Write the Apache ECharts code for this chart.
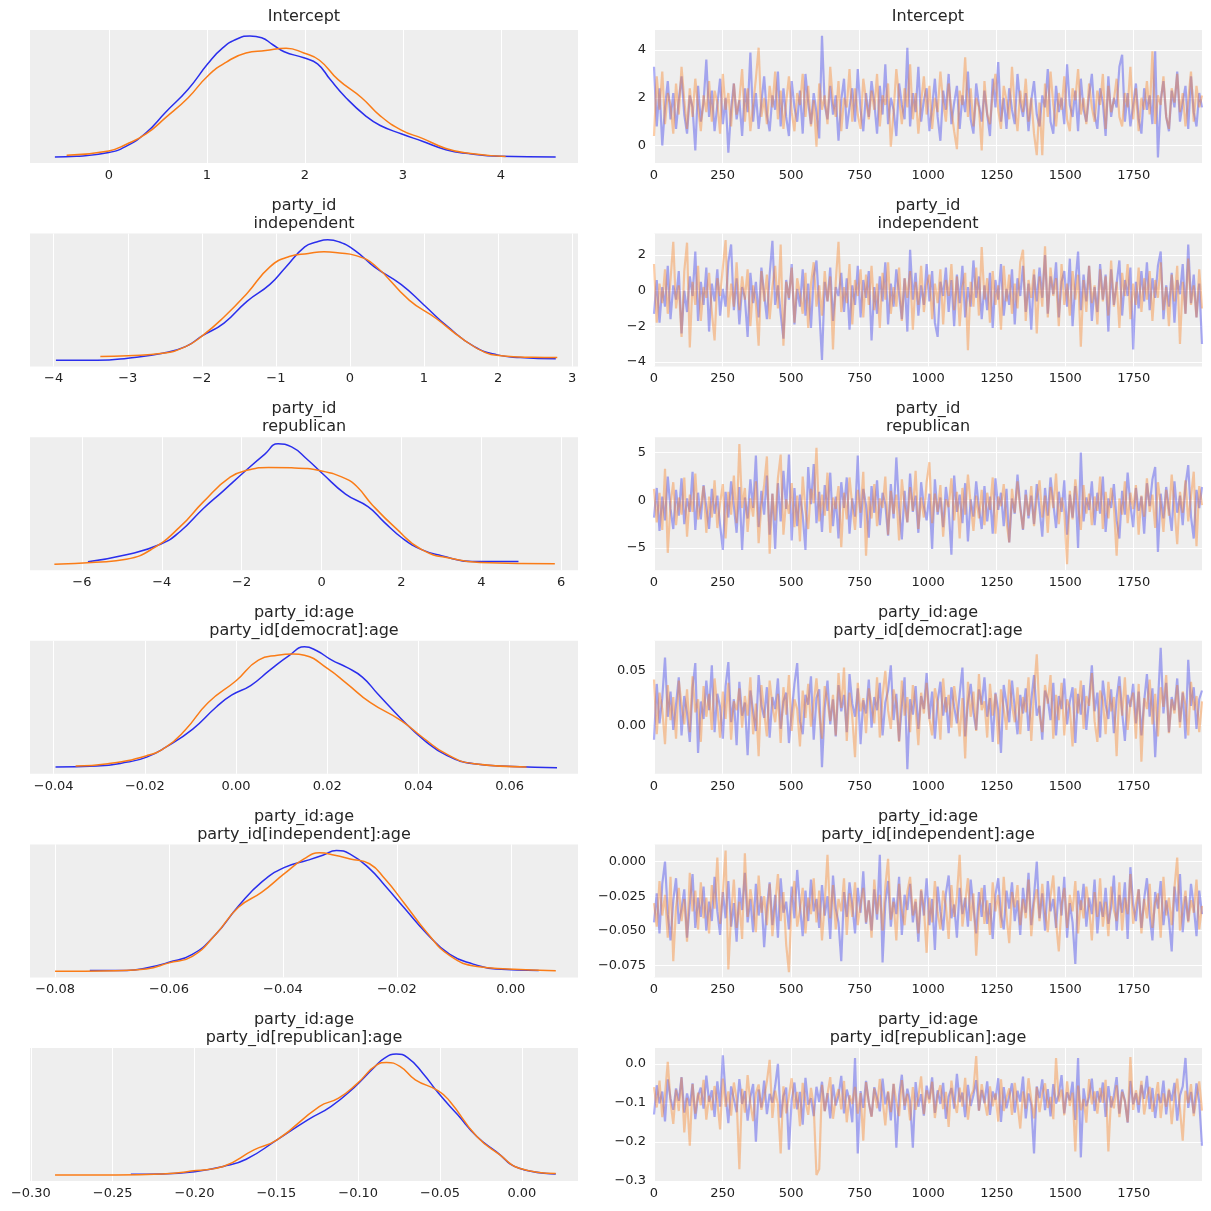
<!DOCTYPE html>
<html><head><meta charset="utf-8">
<script src="https://cdn.jsdelivr.net/npm/echarts@6/dist/echarts.min.js"></script>
<style>html,body{margin:0;padding:0;background:#fff}#c{width:1211px;height:1211px}</style>
</head><body><div id="c"></div>
<script>
// ---------- titles ----------
const titles = [['Intercept'],['party_id','independent'],['party_id','republican'],
  ['party_id:age','party_id[democrat]:age'],['party_id:age','party_id[independent]:age'],['party_id:age','party_id[republican]:age']];

// ---------- tick labels ----------
const kdeXTicks = [[0,1,2,3,4],[-4,-3,-2,-1,0,1,2,3],[-6,-4,-2,0,2,4,6],[-0.04,-0.02,0,0.02,0.04,0.06],[-0.08,-0.06,-0.04,-0.02,0],[-0.3,-0.25,-0.2,-0.15,-0.1,-0.05,0]];
const kdeXDecimals = [0,0,0,2,2,2];
const traceYTicks = [[0,2,4],[-4,-2,0,2],[-5,0,5],[0,0.05],[-0.075,-0.05,-0.025,0],[-0.3,-0.2,-0.1,0]];
const traceYDecimals = [0,0,0,2,3,1];
const drawTicks = [0,250,500,750,1000,1250,1500,1750];

// ---------- KDE curves (x, relative density) ----------
const kde1Blue = [[-0.55,0],[-0.33,0.5],[0,3.6],[0.18,9],[0.38,20],[0.58,37],[0.81,56],[1.01,77],[1.16,90],[1.32,98],[1.44,100],[1.56,98.6],[1.67,93],[1.79,87],[1.99,82],[2.13,77],[2.26,64],[2.42,49],[2.62,34],[2.77,26],[2.99,19],[3.2,13],[3.44,6],[3.67,2.8],[3.99,0.6],[4.56,0]];
const kde1Orange = [[-0.43,1.4],[0,5],[0.18,10.5],[0.38,19],[0.58,32.5],[0.81,49],[1.01,67],[1.2,78.5],[1.4,86],[1.6,88],[1.81,90],[1.99,86],[2.15,80],[2.34,64],[2.58,49],[2.77,34],[2.99,22],[3.2,15.4],[3.44,7],[3.67,3],[4.05,0.3]];
const kde2Blue = [[-3.97,0.3],[-3.41,0.3],[-3.0,2],[-2.53,6],[-2.22,11.5],[-1.99,20.6],[-1.7,31],[-1.39,49],[-1.08,63],[-0.87,77],[-0.61,94],[-0.45,98],[-0.3,100],[-0.14,98],[0.07,91],[0.33,77.5],[0.69,63],[1.0,46],[1.32,28],[1.68,11.5],[1.99,4.7],[2.3,2.5],[2.78,1.4]];
const kde2Orange = [[-3.37,3.3],[-3.0,4],[-2.53,6],[-2.22,11.5],[-1.99,20.6],[-1.7,36],[-1.39,55.5],[-1.08,77.5],[-0.82,86],[-0.56,88.5],[-0.35,90],[-0.14,89],[0.07,87],[0.33,79],[0.8,50],[1.16,35],[1.52,18],[1.83,6.6],[2.04,4],[2.46,2.7],[2.8,2.5]];
const kde3Blue = [[-5.85,2],[-4.89,7.7],[-4.02,16.7],[-3.54,27],[-2.96,46],[-2.48,60],[-1.91,77],[-1.42,91],[-1.09,99.5],[-0.75,97],[-0.37,87],[0.02,75],[0.6,58],[1.17,47.4],[1.56,35],[2.04,21],[2.52,11.8],[3.0,7],[3.77,2.2],[4.93,2.2]];
const kde3Orange = [[-6.69,0],[-5.66,1.6],[-4.89,4],[-4.22,13],[-3.54,31],[-2.96,51.5],[-2.29,72],[-1.81,78],[-1.33,80],[-0.75,79.7],[0,77],[0.6,70.7],[0.89,64],[1.27,49],[1.85,30],[2.52,11.8],[3.29,4.4],[3.96,1.4],[5.84,0.3]];
const kde4Blue = [[-0.0396,0.6],[-0.0306,1.4],[-0.0238,4.7],[-0.0196,8.8],[-0.0154,17],[-0.0095,32],[-0.0044,50],[-0.001,60],[0.0032,68],[0.0074,80.7],[0.0117,93],[0.015,100],[0.0176,97],[0.021,89],[0.0243,83],[0.0277,75],[0.0311,61],[0.0362,40.6],[0.0413,22.7],[0.0463,10],[0.0522,3.3],[0.0607,1.1],[0.0704,0]];
const kde4Orange = [[-0.0352,1.4],[-0.0281,3.3],[-0.0196,10],[-0.0154,17],[-0.0112,31],[-0.0061,54],[0,72],[0.0049,89],[0.0091,93],[0.0125,94],[0.015,93],[0.0201,82],[0.0243,69.6],[0.0294,54],[0.0362,39],[0.0413,24],[0.0463,11],[0.0522,3.3],[0.0637,0.6]];
const kde5Blue = [[-0.0739,0.8],[-0.0674,0.8],[-0.064,2.8],[-0.06,7.5],[-0.0559,14],[-0.0519,30],[-0.0478,54],[-0.0437,74],[-0.0397,86],[-0.0356,92],[-0.033,96],[-0.0306,100],[-0.0282,97],[-0.0248,85],[-0.0221,71],[-0.0188,53],[-0.0147,31],[-0.0107,14],[-0.0066,6],[-0.0026,2],[0.0049,0.8]];
const kde5Orange = [[-0.08,0],[-0.0694,0.6],[-0.064,2],[-0.06,7],[-0.0559,12.4],[-0.0519,30],[-0.0478,53],[-0.0437,65.5],[-0.0397,81],[-0.0363,93],[-0.0336,98],[-0.0309,96],[-0.0282,93],[-0.0248,89],[-0.0221,76.5],[-0.0188,57],[-0.0147,32],[-0.0107,13],[-0.0059,4],[-0.0005,2],[0.0079,0.6]];
const kde6Blue = [[-0.2389,0.6],[-0.22,0.8],[-0.199,2.8],[-0.1825,7],[-0.1684,13],[-0.1496,29],[-0.1308,45.6],[-0.1167,56.6],[-0.1027,72],[-0.0909,88],[-0.0839,96.7],[-0.0768,100],[-0.0698,97],[-0.0604,84],[-0.051,67.7],[-0.0392,49.7],[-0.0275,31.8],[-0.0157,19.3],[-0.0016,5.5],[0.0207,0.8]];
const kde6Orange = [[-0.2852,0],[-0.267,0],[-0.248,0],[-0.22,0.8],[-0.199,3.6],[-0.1825,7],[-0.1637,20.7],[-0.1496,29],[-0.1238,56.6],[-0.112,63.5],[-0.1003,76],[-0.0886,91],[-0.0827,93],[-0.0745,89.8],[-0.0651,78.7],[-0.051,69.6],[-0.0439,60.8],[-0.0275,31.8],[-0.0134,16.6],[-0.0016,5.5],[0.0207,1.1]];

// ---------- trace values (chain 0 = blue, chain 1 = orange), spread over draws 0..1999 ----------
const trace1Blue = [3.3,0.8,2.4,0.0,1.6,2.7,1.1,2.2,0.7,1.9,2.9,1.3,0.5,2.1,1.6,-0.2,2.5,1.0,1.8,3.6,
1.2,2.3,0.6,1.7,2.8,0.9,2.0,-0.3,1.5,2.6,1.1,1.9,0.4,2.4,1.4,3.9,1.0,2.2,0.7,1.8,
2.9,1.3,0.6,2.1,1.5,3.1,0.8,2.4,1.2,0.4,2.7,1.6,1.0,2.3,0.5,3.0,1.8,0.9,2.2,1.4,
0.3,4.6,1.7,1.1,2.5,1.3,2.1,0.2,1.9,2.8,0.7,1.6,2.4,1.0,3.2,1.5,0.6,2.2,1.2,2.7,
1.8,0.5,2.5,1.3,3.4,0.9,2.0,1.5,0.4,2.6,1.7,1.1,4.1,0.8,2.2,1.4,3.3,1.0,1.9,2.4,
0.6,1.6,2.8,1.2,0.2,2.3,1.5,3.0,0.9,1.8,2.5,0.7,2.1,1.4,3.1,1.1,0.5,2.6,1.7,1.0,
2.3,1.3,0.4,2.8,1.6,3.5,1.0,2.0,0.7,2.4,1.5,0.9,3.0,1.8,1.2,2.2,0.6,1.9,2.7,1.3,
0.8,2.1,1.6,3.2,1.0,0.5,2.5,1.4,2.0,0.9,3.4,1.7,1.2,2.3,0.6,2.8,1.5,1.0,2.1,3.0,
1.3,0.7,2.4,1.8,0.4,2.9,1.2,2.0,1.6,3.3,3.8,1.0,2.2,0.8,1.7,2.6,1.1,0.5,2.4,1.5,
2.1,0.9,3.95,-0.5,1.9,2.7,1.2,0.6,2.3,1.6,3.1,1.0,1.8,2.5,0.7,2.9,1.4,0.8,2.2,1.6];
const trace1Orange = [0.4,2.9,1.5,3.1,0.9,2.2,1.7,0.5,2.6,1.3,3.3,1.9,0.7,2.4,1.2,2.8,1.6,0.6,2.1,1.4,
2.7,1.0,2.3,1.8,0.5,3.0,1.5,2.2,0.8,2.6,1.3,1.9,3.2,1.0,2.4,0.6,1.7,2.8,4.1,1.2,
2.0,0.9,2.5,1.6,3.1,1.1,2.3,0.7,1.8,2.9,1.4,0.6,2.2,1.7,3.0,1.2,2.5,0.8,1.9,-0.05,
2.6,1.5,2.1,0.9,3.3,1.8,1.2,2.7,0.6,2.0,1.6,3.2,1.0,2.4,1.3,0.7,2.8,1.9,1.1,2.3,
1.5,3.0,0.8,2.1,1.7,2.6,-0.05,1.4,3.2,2.0,0.9,2.4,1.6,3.4,1.1,2.2,0.5,1.8,2.9,1.3,
2.5,0.7,2.0,1.4,3.1,1.8,1.0,2.6,1.5,0.6,-0.15,2.3,1.7,3.7,1.2,2.4,0.8,2.0,1.6,-0.2,
2.7,1.3,0.9,2.2,3.0,1.5,0.7,2.5,1.9,1.1,3.3,1.6,0.6,2.3,1.4,2.8,1.0,2.0,0.5,-0.4,
1.8,-0.4,2.6,1.2,3.1,1.7,0.8,2.2,1.5,2.9,1.1,0.6,2.4,1.9,3.2,1.3,2.0,0.9,2.6,1.6,
1.0,2.3,1.7,3.0,0.7,2.5,1.4,1.9,2.8,1.2,0.8,2.2,1.6,3.3,1.1,2.4,0.6,2.0,1.5,2.7,
1.3,3.95,0.9,2.1,1.7,2.9,1.2,0.7,2.4,1.8,3.0,1.4,2.2,0.8,1.9,3.1,1.0,2.5,1.6,2.1];
const trace2Blue = [-1.3,0.6,-1.8,0.2,-0.9,1.4,-1.6,0.3,-0.5,1.1,-2.4,0.0,-1.2,0.8,-0.3,2.2,-1.7,0.5,-0.8,1.3,
-2.3,0.4,-0.6,1.2,-1.4,0.1,-0.9,1.6,2.6,-1.1,0.7,-1.9,0.2,-0.4,-2.6,1.0,-0.7,0.5,-1.5,1.3,
-0.2,-1.6,0.9,2.8,-0.8,0.3,-1.3,-2.7,0.6,-0.5,1.5,-1.9,0.1,-0.9,1.2,-1.4,0.4,-2.1,0.8,1.7,
-1.0,-3.9,0.5,-0.6,1.3,-1.7,0.2,-0.3,1.0,-1.2,0.7,-2.2,0.3,-0.8,1.4,-1.5,0.6,-0.4,1.1,-2.8,
0.2,-1.3,0.8,-0.6,1.6,-1.9,0.4,-0.9,1.2,-0.2,-1.6,0.7,-2.3,2.3,-0.5,1.0,-1.4,0.3,-0.8,1.5,
-0.6,1.1,-1.8,-2.6,0.5,-0.3,1.3,-1.2,0.6,-2.0,0.9,-0.7,1.4,-1.5,0.2,-0.9,1.7,-0.4,0.8,-1.6,
0.3,-1.1,1.0,-2.1,0.6,-0.5,1.5,-1.4,0.1,-0.8,1.2,-1.9,0.7,-0.3,1.4,-1.2,0.4,-2.2,0.9,-0.6,
1.3,-0.4,2.0,-1.3,0.8,-0.2,1.6,-1.5,0.5,1.1,-0.9,1.8,-2.0,0.4,2.2,-1.1,0.9,-0.6,1.4,-1.7,
0.2,-1.2,1.5,-0.5,0.9,-2.3,1.2,-0.8,0.4,1.7,-1.4,0.6,-0.3,1.3,-3.3,0.5,-1.0,1.1,-0.6,1.6,
-1.1,0.7,-0.4,1.4,2.2,-1.6,0.3,-0.9,1.0,-1.8,0.6,-0.2,1.5,-1.3,2.6,-0.7,0.9,-1.5,0.4,-3.0];
const trace2Orange = [1.5,-1.8,0.4,-0.7,1.2,-1.3,0.6,2.75,-1.0,0.3,-2.6,1.1,2.7,-3.2,0.5,-0.8,1.4,-1.7,0.2,-0.4,
1.0,-1.2,-2.8,0.7,-0.3,1.3,2.85,-1.5,0.4,-0.9,1.6,-1.1,0.8,-0.5,1.2,-2.0,0.3,-0.7,-3.1,1.1,
-0.6,0.9,-1.6,0.2,1.4,-1.0,2.6,-3.1,0.5,-0.4,1.3,-1.8,0.7,-0.2,-1.3,1.0,-2.1,0.4,1.6,-0.9,
0.3,-1.4,1.1,-0.6,0.8,-3.3,0.5,2.75,-1.2,0.2,-0.7,1.5,-1.9,0.6,-0.3,1.2,-1.5,0.9,-0.8,1.4,
-1.1,0.4,-2.1,1.0,-0.5,1.6,-1.3,0.2,-0.9,1.3,-1.7,0.7,-0.4,1.1,-2.2,0.5,-0.8,1.4,-1.2,0.3,
0.9,-1.6,0.4,-0.7,1.2,-1.9,0.6,-0.3,1.5,-1.1,0.8,-2.0,0.2,1.0,-3.35,0.5,-0.9,1.3,-1.4,2.45,
-0.5,0.7,-1.8,1.1,-0.8,0.3,-2.2,1.4,-0.6,0.9,-1.3,0.4,-1.0,1.6,2.3,-1.7,0.6,-0.4,1.2,-2.4,
0.8,-0.9,2.5,-1.5,1.3,-0.3,0.7,-2.0,1.5,-0.8,0.4,-1.4,1.1,-0.5,0.9,-3.15,0.6,-1.2,1.4,-0.7,
0.3,-1.9,1.2,-0.6,0.8,-1.4,1.7,-0.9,0.5,-2.1,1.0,-0.3,1.5,-1.6,0.4,-0.8,1.3,-1.2,0.7,-0.5,
1.1,-1.7,0.6,-0.4,1.6,-1.1,0.2,-2.0,0.9,-0.6,1.4,-3.0,0.5,-1.3,1.8,-0.8,0.3,-1.5,1.2,-1.0];
const trace3Blue = [-1.8,1.3,-3.2,0.4,-2.1,2.5,-0.9,-3.0,1.1,-1.6,2.3,-2.5,0.2,-1.2,3.0,-3.1,0.8,-2.0,1.6,-0.7,
-3.0,1.2,-1.4,0.5,-2.6,-5.2,0.9,-1.8,2.0,-0.6,-3.4,1.4,-5.2,0.3,-1.9,2.2,-0.8,4.7,-2.8,1.0,
-1.5,2.6,-3.6,0.7,-5.1,1.8,-2.2,3.1,-0.9,4.8,-4.2,1.3,-2.7,0.6,-1.6,-5.2,3.5,-0.4,3.8,-2.4,
0.9,-3.3,1.6,-1.1,2.9,-2.7,0.4,-4.0,1.9,-0.8,2.4,-3.5,0.2,-1.7,4.7,-2.9,1.2,-0.5,-3.9,1.5,
-1.3,2.1,-2.6,0.8,-0.4,-3.7,1.7,-1.9,4.5,-0.7,-4.1,1.0,-2.3,2.8,-1.2,0.5,-3.4,1.9,-0.6,-2.1,
0.7,-5.1,2.2,-1.5,0.3,-2.8,1.4,-0.9,-5.7,2.6,-1.2,0.6,-2.4,1.8,-4.3,0.1,-1.7,2.0,-0.8,-3.0,
1.5,-2.2,0.4,-3.5,2.3,-1.0,0.8,-2.7,1.2,-4.4,0.2,-1.4,2.7,-0.6,-3.1,1.1,-1.9,0.5,-2.5,1.7,
-0.9,-3.8,1.3,-1.6,2.4,-0.3,-2.9,0.9,-1.2,2.1,-3.6,0.6,-1.8,1.5,-5.0,5.0,-2.2,0.3,-1.0,2.0,
-2.6,0.8,-1.4,2.5,-3.3,0.2,-0.8,1.7,-2.1,-4.0,1.0,-1.5,2.9,-0.5,-2.8,1.3,-1.1,0.4,-3.5,1.8,
-0.6,2.2,3.5,-5.4,0.7,-1.9,1.4,-0.9,-3.2,2.0,-1.3,0.5,-2.6,1.6,3.7,-1.7,-4.0,1.1,-0.8,1.4];
const trace3Orange = [1.2,-2.3,0.8,-3.1,3.3,-5.5,-0.4,1.9,-2.6,0.3,-1.5,2.4,-3.8,0.6,-1.2,2.8,-2.0,-0.6,1.5,-3.4,
0.4,-1.8,2.1,-2.9,-0.3,1.7,-4.0,0.9,-1.5,2.6,-2.4,5.9,-0.8,1.3,-3.3,0.2,-1.7,2.0,-4.5,-0.5,
1.6,4.6,-5.6,0.7,-2.1,2.3,4.8,-3.6,0.1,-1.4,1.8,-2.8,0.5,-4.3,2.5,-1.0,-3.0,1.2,-0.3,5.5,
-2.2,0.6,-1.6,2.9,-3.4,0.3,-0.9,1.5,-4.9,0.8,-2.0,2.4,-0.6,-3.1,1.1,-1.3,3.0,-5.8,0.4,-1.9,
1.7,-2.7,0.2,-0.8,2.5,-3.6,1.0,-1.4,0.6,-4.2,2.2,-0.5,-2.3,1.4,-1.1,3.1,-3.0,0.3,-1.8,1.9,
4.0,-2.4,0.7,-1.2,1.6,-3.8,0.1,-0.7,2.3,-2.1,0.9,-4.0,1.3,-1.5,2.7,-0.4,-3.2,0.5,-1.9,1.1,
-2.6,0.8,-1.0,2.4,-3.5,0.4,-0.6,1.7,-2.2,-4.4,1.2,-1.3,2.0,-0.9,-3.0,0.6,-1.6,1.5,-2.7,0.2,
2.1,-1.8,0.5,-3.4,1.4,-0.8,2.8,-2.5,0.3,-1.2,-6.7,1.0,-2.0,2.2,-0.5,-3.1,1.6,-1.4,0.7,-2.6,
0.4,-1.1,2.5,-3.0,0.9,-1.9,1.3,-0.6,-5.8,0.2,-1.5,2.0,-2.4,0.8,-0.9,1.6,-3.6,0.5,-1.7,2.3,
-1.2,0.6,-2.9,1.9,-0.4,-3.3,1.1,-1.6,2.7,-0.8,-4.6,0.9,-1.3,2.1,-2.2,0.4,3.0,-4.8,1.5,-0.5];
const trace4Blue = [-.013,.038,.002,.025,.062,.008,.031,-.004,.019,.044,-.009,.027,.011,-.015,.034,.057,-.025,.022,.006,.041,
.014,.055,-.006,.029,.017,-.012,.036,.058,.003,.024,-.018,.040,.009,.021,-.027,.032,.013,-.005,.046,.018,
.007,.035,-.011,.026,.015,.043,-.003,.022,.030,-.016,.012,.038,.057,.004,-.008,.028,.019,.045,-.013,.025,
.033,-.038,.016,.041,.001,.024,-.010,.037,.013,.028,-.006,.047,.020,.008,.034,-.017,.023,.011,.042,-.002,
.026,.014,.039,-.009,.021,.032,.055,.005,.029,-.014,.018,.044,-.040,.024,.010,.036,-.003,.027,.015,.048,
.006,.031,-.012,.022,.040,.009,.026,-.007,.035,.017,.002,.029,.053,-.010,.021,.038,.012,-.004,.033,.019,
.044,.008,.025,-.015,.030,.014,-.025,.037,.020,.003,.041,.016,-.008,.028,.011,.034,-.005,.023,.046,.009,
.018,-.013,.032,.024,.005,.039,-.009,.027,.015,.043,.001,.022,.035,-.016,.029,.010,.037,-.004,.024,.055,
.013,.030,-.011,.041,.019,.006,.033,-.007,.025,.045,.012,-.014,.028,.017,.038,.002,.031,-.009,.022,.047,
.008,.034,-.029,.021,.071,.011,.039,-.006,.026,.014,.043,.003,.030,-.012,.060,.018,.035,-.003,.024,.032];
const trace4Orange = [.042,-.008,.030,.015,-.017,.037,.005,.026,-.012,.041,.019,.001,.033,-.006,.045,.012,.024,-.015,.036,.008,
.029,-.004,.043,.017,-.011,.031,.006,.039,-.013,.022,.014,.034,-.002,.027,.009,.044,-.008,.020,-.028,.037,
.012,-.010,.041,.018,.003,.029,-.016,.035,.010,.046,-.005,.024,.015,-.019,.032,.007,.038,-.001,.021,.043,
.011,-.012,.036,.022,.004,.028,-.009,.048,.016,.053,-.014,.030,.008,-.029,.039,.013,.025,-.007,.034,.019,
.002,.044,-.011,.027,.050,.014,-.003,.033,.020,-.015,.041,.009,.026,-.006,.037,.016,-.018,.030,.011,.039,
.006,-.009,.034,.021,-.013,.043,.012,.028,-.002,.036,.017,-.010,.025,-.030,.040,.008,.031,-.005,.047,.014,
.022,-.011,.038,.009,.029,-.017,.033,.015,-.004,.042,.019,.003,.035,-.008,.026,.012,.044,-.014,.031,.065,
.010,-.006,.037,.020,.046,-.012,.028,.005,.039,-.009,.024,.016,-.019,.034,.011,.041,-.003,.027,.018,.048,
.004,-.015,.032,.023,-.008,.040,.013,.026,-.028,.036,.009,.044,-.004,.021,.030,-.012,.038,-.033,.025,.015,
.042,.001,.029,-.010,.035,.017,.046,-.007,.024,.011,.037,-.002,.031,.019,-.009,.040,.014,.027,-.006,.022];
const trace5Blue = [-.044,-.023,-.052,-.016,.000,-.038,-.057,-.028,-.012,-.045,-.034,-.020,-.055,-.031,-.009,-.048,-.026,-.040,-.018,-.050,
-.029,-.043,-.011,-.036,-.053,-.022,-.041,-.014,-.047,-.030,-.058,-.019,-.035,-.008,-.044,-.027,-.051,-.016,-.039,-.025,
-.062,-.033,-.015,-.046,-.024,-.055,-.012,-.037,-.029,-.049,-.018,-.041,-.006,-.032,-.054,-.021,-.043,-.013,-.036,-.027,
-.048,-.017,-.039,-.025,-.056,-.010,-.034,-.044,-.072,-.022,-.040,-.015,-.031,-.052,-.019,-.037,-.007,-.045,-.028,-.050,
-.020,-.042,.005,-.073,-.030,-.014,-.047,-.026,-.038,-.011,-.053,-.024,-.035,-.016,-.044,-.029,-.058,-.021,-.039,-.012,
-.046,-.027,-.064,-.018,-.036,-.050,-.023,-.010,-.041,-.031,-.055,-.019,-.038,-.026,-.047,-.013,-.033,-.052,-.022,-.040,
-.017,-.045,-.030,-.056,-.024,-.012,-.039,-.049,-.021,-.034,-.015,-.043,-.028,-.053,-.019,-.037,-.008,-.046,-.025,.000,
-.041,-.023,-.050,-.014,-.036,-.027,-.048,-.018,-.039,-.011,-.055,-.030,-.044,-.074,-.021,-.035,-.016,-.047,-.026,-.038,
-.013,-.052,-.029,-.040,-.019,-.045,-.033,-.010,-.050,-.024,-.037,-.015,-.056,-.004,-.031,-.043,-.020,-.048,-.027,-.012,
-.039,-.057,-.022,-.034,-.014,-.046,-.028,-.042,-.065,-.018,-.036,-.009,-.051,-.025,-.043,-.016,-.032,-.054,-.021,-.038];
const trace5Orange = [-.030,-.047,-.014,-.039,-.024,-.055,-.011,-.072,-.033,-.019,-.043,-.027,-.058,-.008,-.036,-.021,-.049,-.015,-.041,-.026,
-.052,-.017,-.034,.003,-.045,-.022,.008,-.078,-.038,-.013,-.048,-.029,-.056,.006,-.040,-.020,-.033,-.051,-.010,-.037,
-.025,-.046,-.016,-.054,-.031,-.009,-.043,-.022,-.060,-.080,-.028,-.014,-.047,-.035,-.019,-.052,-.026,-.038,-.012,-.044,
-.021,-.057,-.030,.005,-.041,-.017,-.049,-.027,-.036,-.012,-.053,-.023,-.040,-.015,-.046,-.031,-.019,-.044,-.028,-.055,
-.013,-.038,-.024,-.050,-.018,.002,-.042,-.029,-.057,-.016,-.035,-.046,-.022,-.011,-.039,-.027,-.052,-.020,-.033,-.066,
-.026,-.044,-.014,-.037,-.049,-.021,-.032,-.056,-.017,-.040,-.025,.005,-.047,-.030,-.012,-.043,-.023,-.068,-.034,-.019,
-.045,-.028,-.053,-.015,-.036,-.024,-.048,-.011,-.039,-.059,-.022,-.033,-.017,-.046,-.027,-.041,-.013,-.054,-.030,-.020,
-.043,-.016,-.037,-.051,-.025,-.010,-.044,-.065,-.031,-.019,-.048,-.024,-.036,-.014,-.052,-.028,-.041,-.018,-.033,-.057,
-.022,-.040,-.012,-.047,-.029,-.054,-.018,-.035,-.043,-.015,-.050,-.026,-.038,-.009,-.045,-.031,-.020,-.052,-.027,-.041,
-.016,-.048,-.030,-.023,-.055,-.011,-.039,-.026,-.046,-.019,.003,-.050,-.034,-.021,-.044,-.028,-.037,-.013,-.049,-.032];
const trace6Blue = [-.130,-.055,-.102,-.071,-.148,-.040,-.089,-.118,-.063,-.095,-.034,-.125,-.076,-.108,-.050,-.142,-.082,-.061,-.115,-.030,
-.097,-.068,-.136,-.045,-.110,.022,-.079,-.152,-.058,-.091,-.124,-.039,-.103,-.070,-.146,-.085,-.052,-.200,-.066,-.112,
-.043,-.129,-.077,-.100,-.057,.000,-.138,-.083,-.061,-.220,-.094,-.048,-.117,-.072,-.156,-.036,-.105,-.088,-.134,-.059,
-.098,-.046,-.121,-.075,-.140,-.053,-.107,-.082,-.031,-.127,-.066,-.093,-.150,.015,-.230,-.070,-.113,-.044,-.099,-.135,
-.060,-.087,-.122,-.038,-.104,-.073,-.145,-.052,-.215,-.081,-.028,-.118,-.064,-.096,-.215,-.047,-.110,-.078,-.133,-.056,
-.091,-.035,-.126,-.068,-.103,-.049,-.141,-.084,-.062,-.115,-.026,-.098,-.074,-.137,-.054,-.108,-.080,-.042,-.120,-.067,
-.101,-.045,-.131,-.071,-.092,-.037,-.149,-.060,-.114,-.083,-.050,-.125,-.069,-.097,-.033,-.140,-.076,-.106,-.230,-.058,
-.088,-.040,-.119,-.065,-.135,-.052,-.102,-.079,-.029,-.127,-.073,-.094,-.046,-.144,.015,-.240,-.063,-.109,-.085,-.038,
-.121,-.070,-.099,-.048,-.136,-.057,-.112,-.081,-.034,-.128,-.066,-.095,-.151,-.044,-.104,-.075,-.125,-.054,-.090,-.031,
-.116,-.062,-.139,-.077,-.101,-.043,-.130,-.068,-.095,-.049,-.146,-.081,-.058,.015,-.113,-.072,-.127,-.050,-.098,-.210];
const trace6Orange = [-.060,-.112,-.043,-.137,-.079,.005,-.098,-.154,-.066,-.121,-.035,-.176,-.087,-.210,-.052,-.128,-.074,-.106,-.041,-.143,
-.082,-.119,-.057,-.095,-.168,-.038,-.110,-.071,-.133,-.048,-.090,-.270,-.064,-.125,-.029,-.101,-.147,-.076,-.053,-.118,
-.088,-.045,.010,-.139,-.069,-.104,-.230,-.058,-.127,-.083,-.037,-.115,-.072,-.160,-.049,-.096,-.131,-.062,-.108,-.285,
-.270,-.054,-.122,-.078,-.034,-.141,-.090,-.065,-.117,-.044,-.150,-.081,-.103,-.059,-.128,-.075,-.197,-.047,-.099,-.136,
-.063,-.114,-.039,-.092,-.158,-.070,-.124,-.051,-.098,-.134,-.042,-.107,-.077,-.145,-.060,-.118,-.085,-.032,-.129,-.068,
-.101,-.046,-.139,-.080,-.055,-.116,-.072,-.162,-.043,-.097,-.126,-.061,-.110,-.036,-.143,-.084,-.067,.020,-.120,-.052,
-.094,-.133,-.058,-.109,-.076,-.148,-.040,-.121,-.087,-.063,-.131,-.049,-.102,-.166,-.071,-.115,-.037,-.093,-.140,-.060,
-.124,-.078,-.050,-.113,-.085,-.142,.015,-.097,-.066,-.132,-.045,-.108,-.074,-.225,-.056,-.119,-.090,-.151,-.039,-.104,
-.071,-.128,-.062,-.100,-.041,-.225,-.083,-.114,-.055,-.137,-.072,-.096,-.150,.017,-.118,-.068,-.105,-.044,-.130,-.086,
-.059,-.123,-.091,-.047,-.139,-.076,-.110,-.064,-.155,-.082,-.038,-.116,-.197,-.069,-.101,-.052,-.134,-.087,-.045,-.120];

const kdeData = [[kde1Blue,kde1Orange],[kde2Blue,kde2Orange],[kde3Blue,kde3Orange],[kde4Blue,kde4Orange],[kde5Blue,kde5Orange],[kde6Blue,kde6Orange]];
const traceData = [[trace1Blue,trace1Orange],[trace2Blue,trace2Orange],[trace3Blue,trace3Orange],[trace4Blue,trace4Orange],[trace5Blue,trace5Orange],[trace6Blue,trace6Orange]];
const nDraws = 2000;

// ---------- view extents ----------
const kdeXRange = [[-0.804,4.788],[-4.32,3.08],[-7.30,6.42],[-0.0452,0.0750],[-0.0844,0.0118],[-0.3005,0.0343]];
const traceYRange = [[-0.73,4.84],[-4.27,3.21],[-7.32,6.62],[-0.0441,0.0774],[-0.0838,0.0125],[-0.3005,0.0405]];

const COLORS = ['#2a2eec', '#fa7c17'];
const FONT = 'DejaVu Sans';
const TXT = '#262626';
const leftX = 30, rightX = 654, gW = 548, gH = 133;
const rowTops = [30, 233.6, 437.2, 640.8, 844.4, 1048];

function fmt(d) {
  return v => { let s = Number(v).toFixed(d); if (parseFloat(s) === 0) s = (0).toFixed(d); return s.replace('-', '\u2212'); };
}

const grid = [], xAxis = [], yAxis = [], series = [], graphic = [];
rowTops.forEach((top, r) => {
  [leftX, rightX].forEach(left => grid.push({left, top, width: gW, height: gH, show: true, backgroundColor: '#eeeeee', borderWidth: 0, containLabel: false, outerBoundsMode: 'none'}));
  const gl = 2 * r, gr = 2 * r + 1;
  const lab = {color: '#222222', fontFamily: FONT, fontSize: 13};
  // KDE axes
  xAxis.push({type: 'value', gridIndex: gl, min: kdeXRange[r][0], max: kdeXRange[r][1],
    axisLine: {show: false}, axisTick: {show: false, customValues: kdeXTicks[r]},
    axisLabel: Object.assign({customValues: kdeXTicks[r], formatter: fmt(kdeXDecimals[r]), margin: 6}, lab),
    splitLine: {show: true, lineStyle: {color: '#ffffff', width: 1}}});
  yAxis.push({type: 'value', gridIndex: gl, min: -5, max: 105, axisLine: {show: false}, axisTick: {show: false}, axisLabel: {show: false}, splitLine: {show: false}});
  // trace axes
  xAxis.push({type: 'value', gridIndex: gr, min: 0, max: nDraws - 1,
    axisLine: {show: false}, axisTick: {show: false, customValues: drawTicks},
    axisLabel: Object.assign({customValues: drawTicks, formatter: fmt(0), margin: 6}, lab),
    splitLine: {show: true, lineStyle: {color: '#ffffff', width: 1}}});
  yAxis.push({type: 'value', gridIndex: gr, min: traceYRange[r][0], max: traceYRange[r][1],
    axisLine: {show: false}, axisTick: {show: false, customValues: traceYTicks[r]},
    axisLabel: Object.assign({customValues: traceYTicks[r], formatter: fmt(traceYDecimals[r]), margin: 8}, lab),
    splitLine: {show: true, lineStyle: {color: '#ffffff', width: 1}}});
  // series
  kdeData[r].forEach((d, c) => series.push({type: 'line', xAxisIndex: gl, yAxisIndex: gl, data: d, showSymbol: false, smooth: true, silent: true,
    lineStyle: {color: COLORS[c], width: 1.5}, z: 3 + c}));
  traceData[r].forEach((vals, c) => series.push({type: 'line', xAxisIndex: gr, yAxisIndex: gr, showSymbol: false, silent: true,
    data: vals.map((v, i) => [i * (nDraws - 1) / (vals.length - 1), v]),
    lineStyle: {color: COLORS[c], width: 2.2, opacity: 0.38, join: 'bevel'}, z: 3 + c}));
  // titles
  const lines = titles[r];
  [leftX, rightX].forEach(left => {
    lines.forEach((t, k) => {
      const y = lines.length === 1 ? top - 13 : top - 10 - 18 * (lines.length - 1 - k);
      graphic.push({type: 'text', x: left + gW / 2, y, silent: true,
        style: {text: t, fill: TXT, font: '16px "' + FONT + '"', textAlign: 'center', textVerticalAlign: 'middle'}});
    });
  });
});

const chart = echarts.init(document.getElementById('c'), null, {renderer: 'canvas'});
chart.setOption({animation: false, backgroundColor: '#ffffff', grid, xAxis, yAxis, series, graphic});
</script>
</body></html>
